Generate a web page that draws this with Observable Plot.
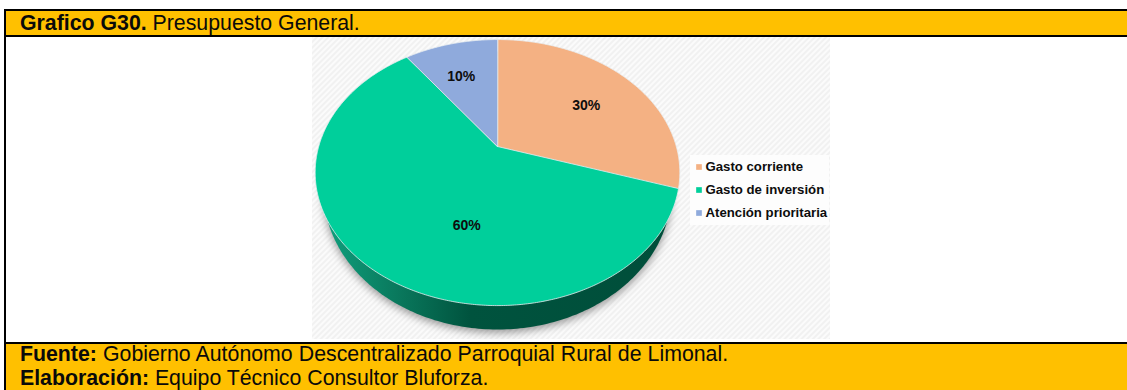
<!DOCTYPE html>
<html><head><meta charset="utf-8">
<script src="https://cdn.jsdelivr.net/npm/d3@7"></script>
<script src="https://cdn.jsdelivr.net/npm/@observablehq/plot@0.6"></script>
<style>
html,body{margin:0;padding:0;background:#fff;overflow:hidden}
#page{position:relative;width:1127px;height:390px;overflow:hidden;font-family:"Liberation Sans",Arial,sans-serif;color:#0a0a0a}
.k{position:absolute;background:#000}
.bar{position:absolute;background:#FFC000;left:6px;right:0}
.t{position:absolute;left:20px;font-size:21.3px;line-height:24px;white-space:nowrap}
#chart{position:absolute;left:0;top:36px}
#chart svg{display:block}
</style></head><body>
<div id="page">
  <div class="k" style="left:4px;width:2px;top:9px;height:381px"></div>
  <div class="k" style="left:4px;right:0;top:9px;height:2px"></div>
  <div class="bar" style="top:11px;height:24px"></div>
  <div class="k" style="left:4px;right:0;top:35px;height:2px"></div>
  <div class="t" style="top:10.6px"><b>Grafico G30.</b> Presupuesto General.</div>
  <div id="chart"></div>
  <div class="k" style="left:4px;right:0;top:341.5px;height:2.5px"></div>
  <div class="bar" style="top:344px;height:46px"></div>
  <div class="t" style="top:342.3px;word-spacing:0.2px"><b>Fuente:</b> Gobierno Autónomo Descentralizado Parroquial Rural de Limonal.</div>
  <div class="t" style="top:366.3px"><b>Elaboración:</b> Equipo Técnico Consultor Bluforza.</div>
</div>
<script>
// ---- data ----
const categories = ["Gasto corriente", "Gasto de inversión", "Atención prioritaria"];
const shares = [30, 60, 10];
const percentLabels = ["30%", "60%", "10%"];
const colors = ["#F4B183", "#00CF9B", "#8FAADC"];

// ---- layout: perspective of the pie disc, in page pixels ----
const W = 1127, TOP = 36, H = 306;
const cx = 497, cy = 146, A = 178.8, B = 127.9, k = 0.196;
const project = (theta, r = 1) => {
  const d = 1 + k * r * Math.cos(theta);
  return [cx + A * r * Math.sin(theta) / d, cy - B * r * Math.cos(theta) / d];
};
const total = d3.sum(shares);
const cum = d3.cumsum(shares);
const slicePts = [];
const labelRows = [];
const labelNudge = [[-5, 8], [52, -2], [-2, 5]];
categories.forEach((name, i) => {
  const a0 = ((cum[i] - shares[i]) / total) * 2 * Math.PI;
  const a1 = (cum[i] / total) * 2 * Math.PI;
  slicePts.push({name, x: cx, y: cy});
  const n = Math.ceil((a1 - a0) / 0.01);
  for (let j = 0; j <= n; j++) {
    const [x, y] = project(a0 + (a1 - a0) * j / n);
    slicePts.push({name, x, y});
  }
  const [lx, ly] = project((a0 + a1) / 2, 0.7);
  labelRows.push({text: percentLabels[i], x: lx + labelNudge[i][0], y: ly + labelNudge[i][1]});
});
// lower rim of the extruded side
const rimPts = d3.range(0, 2 * Math.PI + 0.01, 0.02).map(t => ({
  x: cx + 174 * Math.cos(t), y: 190 + 139 * Math.sin(t)
}));
const shadowPts = rimPts.map(p => ({x: p.x, y: p.y + 3}));

const legendRows = categories.map((name, i) => ({name, y: 166.5 + i * 23}));

const defs = () => {
  const d = d3.create("svg:defs");
  const p = d.append("pattern").attr("id", "hatch").attr("patternUnits", "userSpaceOnUse")
    .attr("width", 4).attr("height", 4).attr("patternTransform", "rotate(45)");
  p.append("rect").attr("width", 4).attr("height", 4).attr("fill", "#fbfbfb");
  p.append("rect").attr("width", 2).attr("height", 4).attr("fill", "#f1f1f1");
  const g = d.append("linearGradient").attr("id", "wall").attr("gradientUnits", "userSpaceOnUse")
    .attr("x1", 325).attr("x2", 670).attr("y1", 0).attr("y2", 0);
  g.append("stop").attr("offset", "0").attr("stop-color", "#0E9F7C");
  g.append("stop").attr("offset", "0.20").attr("stop-color", "#0A7A5E");
  g.append("stop").attr("offset", "0.42").attr("stop-color", "#00533E");
  g.append("stop").attr("offset", "1").attr("stop-color", "#004E3A");
  return d.node();
};

const plot = Plot.plot({
  width: W, height: H,
  marginTop: 0, marginRight: 0, marginBottom: 0, marginLeft: 0,
  x: {domain: [0, W], range: [0, W], axis: null},
  y: {domain: [TOP, TOP + H], range: [0, H], axis: null},
  color: {domain: categories, range: colors},
  style: {background: "transparent", fontFamily: '"Liberation Sans",Arial,sans-serif'},
  marks: [
    defs,
    Plot.rect([{}], {x1: () => 312, x2: () => 830, y1: () => 37, y2: () => 339, fill: "url(#hatch)"}),
    Plot.rect([{}], {x1: () => 690, x2: () => 829, y1: () => 155, y2: () => 225, fill: "#fdfdfd"}),
    Plot.line(shadowPts, {x: "x", y: "y", curve: "linear-closed", fill: "#000", fillOpacity: 0.4, stroke: "none", imageFilter: "blur(4px)"}),
    Plot.line(rimPts, {x: "x", y: "y", curve: "linear-closed", fill: "url(#wall)", stroke: "none"}),
    Plot.line(slicePts, {x: "x", y: "y", z: "name", fill: "name", curve: "linear-closed", stroke: "#e8eef0", strokeWidth: 0.8}),
    Plot.text(labelRows, {x: "x", y: "y", text: "text", fontSize: 14, fontWeight: "bold", fill: "#0d0d0d"}),
    Plot.dot(legendRows, {x: () => 698.5, y: "y", symbol: "square", r: 3.2, fill: "name", stroke: "none"}),
    Plot.text(legendRows, {x: () => 705, y: "y", text: "name", textAnchor: "start", fontSize: 13.2, fontWeight: "bold", fill: "#0d0d0d"})
  ]
});
document.getElementById("chart").append(plot);
</script>
</body></html>
